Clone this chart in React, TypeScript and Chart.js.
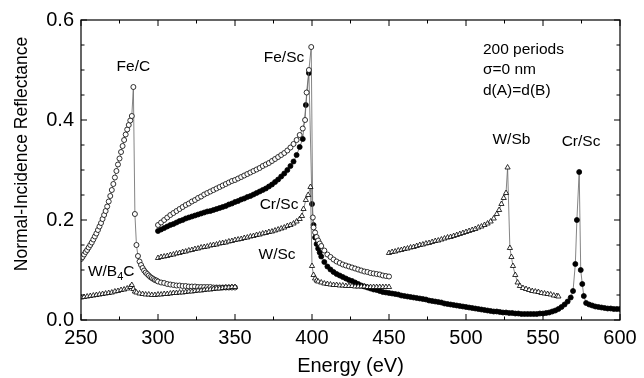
import React, { useEffect, useRef } from "react";
import { Chart, registerables } from "chart.js";
Chart.register(...registerables);

// ---------------- data (Energy eV / Normal-incidence reflectance) ----------------
const feCX = [250,251,252,253,254,255,256,257,258,259,260,261,262,263,264,265,266,267,268,269,270,271,272,273,274,275,276,277,278,279,280,281,282,283,284,
  285,286,287,288,289,290,291,292,293,294,295,296,297,298,299,300,
  302,304,306,308,310,312,314,316,318,320,322,324,326,328,330,332,334,336,338,340,342,344,346,348,350];
const feCY = [.122,.126,.131,.136,.140,.145,.150,.155,.161,.167,.173,.180,.187,.194,.202,.210,.218,.227,.237,.248,.260,.272,.285,.298,.311,.323,.336,.348,.360,.371,.381,.390,.399,.408,.466,
  .212,.150,.128,.117,.110,.104,.099,.095,.092,.089,.086,.084,.082,.080,.079,.077,
  .075,.074,.072,.071,.070,.069,.069,.068,.068,.067,.067,.067,.066,.066,.066,.066,.066,.065,.065,.065,.065,.065,.065,.065,.065];

const wb4cX = [250,252,254,256,258,260,262,264,266,268,270,272,274,276,278,280,282,283,284,285,286,288,290,292,294,296,298,300,
  302,304,306,308,310,312,314,316,318,320,322,324,326,328,330,332,334,336,338,340,342,344,346,348,350];
const wb4cY = [.045,.046,.047,.048,.049,.050,.051,.052,.053,.054,.055,.057,.058,.060,.061,.063,.066,.070,.062,.057,.055,.053,.052,.051,.051,.050,.050,.051,
  .051,.052,.052,.053,.054,.054,.055,.055,.056,.057,.057,.058,.059,.059,.060,.061,.061,.062,.063,.063,.064,.065,.065,.066,.066];

const feScX = [300,302,304,306,308,310,312,314,316,318,320,322,324,326,328,330,332,334,336,338,340,342,344,346,348,350,
  352,354,356,358,360,362,364,366,368,370,372,374,376,378,380,382,384,386,388,390,392,394,395.5,396.5,398,399.5,
  400.5,401,402,403,404,405,406,408,410,412,414,416,418,420,422,424,426,428,430,432,434,436,438,440,442,444,446,448,450];
const feScY = [.190,.195,.200,.205,.210,.214,.218,.222,.226,.230,.233,.237,.240,.244,.247,.251,.254,.257,.260,.263,.266,.269,.272,.275,.278,.280,
  .283,.286,.289,.292,.295,.298,.301,.304,.308,.311,.314,.318,.322,.326,.330,.334,.339,.345,.352,.360,.370,.383,.400,.455,.500,.546,
  .205,.185,.175,.166,.159,.153,.148,.139,.131,.126,.121,.117,.114,.111,.109,.107,.105,.103,.101,.099,.097,.096,.094,.093,.092,.091,.089,.088,.087];

const crScX = [300,302,304,306,308,310,312,314,316,318,320,322,324,326,328,330,332,334,336,338,340,342,344,346,348,350,
  352,354,356,358,360,362,364,366,368,370,372,374,376,378,380,382,384,386,388,390,392,394,396,398,
  400,401,402,403,404,405,406,408,410,412,414,416,418,420,422,424,426,428,430,432,434,436,438,440,442,444,446,448,450,
  452,454,456,458,460,462,464,466,468,470,472,474,476,478,480,482,484,486,488,490,492,494,496,498,500,
  502,504,506,508,510,512,514,516,518,520,522,524,526,528,530,532,534,536,538,540,542,544,546,548,550,
  552,554,556,558,560,562,564,566,568,569.5,571,572,573.5,574.5,575.5,576.5,578,580,582,584,586,588,590,592,594,596,598,600];
const crScY = [.178,.181,.184,.187,.190,.192,.195,.198,.200,.203,.205,.207,.209,.211,.213,.215,.217,.218,.220,.222,.224,.226,.228,.231,.233,.236,
  .238,.241,.243,.246,.248,.251,.254,.257,.260,.263,.267,.271,.276,.281,.287,.293,.300,.308,.317,.330,.346,.362,.430,.494,
  .232,.190,.165,.152,.143,.135,.127,.116,.107,.101,.096,.092,.089,.086,.083,.080,.078,.075,.072,.069,.067,.065,.063,.061,.060,.058,.056,.055,.054,
  .053,.052,.051,.049,.048,.047,.046,.045,.044,.043,.042,.041,.039,.038,.037,.036,.035,.033,.032,.031,.030,.029,.028,.027,.026,
  .025,.024,.023,.022,.021,.020,.019,.018,.017,.017,.016,.015,.015,.014,.014,.013,.013,.012,.012,.012,.012,.012,.012,.013,.013,
  .014,.015,.017,.019,.022,.026,.031,.037,.045,.058,.112,.200,.296,.100,.072,.048,.034,.031,.029,.027,.026,.025,.024,.023,.023,.022,.022,.022];

const wScX = [300,302,304,306,308,310,312,314,316,318,320,322,324,326,328,330,332,334,336,338,340,342,344,346,348,350,
  352,354,356,358,360,362,364,366,368,370,372,374,376,378,380,382,384,386,388,390,392,393.5,394.5,396,397.5,399,
  400,401,402,403,404,406,408,410,412,414,416,418,420,422,424,426,428,430,432,434,436,438,440,442,444,446,448,450];
const wScY = [.124,.126,.127,.128,.130,.131,.133,.134,.136,.137,.139,.140,.142,.143,.145,.146,.147,.149,.150,.151,.153,.154,.155,.157,.158,.160,
  .161,.162,.164,.165,.167,.168,.170,.171,.173,.174,.176,.177,.179,.181,.183,.185,.188,.190,.193,.197,.202,.208,.222,.240,.250,.266,
  .108,.090,.083,.079,.077,.075,.073,.072,.071,.070,.070,.069,.069,.068,.068,.068,.067,.067,.067,.067,.066,.066,.066,.066,.066,.066,.066,.066];

const wSbX = [450,452,454,456,458,460,462,464,466,468,470,472,474,476,478,480,482,484,486,488,490,492,494,496,498,500,
  502,504,506,508,510,512,514,516,518,520,521.5,523,524.5,526,527,528.5,529.5,530.5,532,533.5,535,537,539,541,543,545,547,549,551,553,555,557,559,560];
const wSbY = [.134,.136,.137,.139,.140,.142,.143,.145,.146,.148,.150,.151,.153,.154,.156,.158,.159,.161,.163,.165,.166,.168,.170,.172,.174,.176,
  .178,.180,.182,.185,.187,.190,.193,.197,.203,.212,.220,.232,.244,.254,.305,.144,.126,.108,.090,.075,.068,.064,.062,.060,.058,.057,.056,.054,.053,.052,.051,.049,.048,.047];

const xMajorTicks = [250, 300, 350, 400, 450, 500, 550, 600];
const xMinorTicks = [275, 325, 375, 425, 475, 525, 575];
const yMajorTicks = [0, 0.2, 0.4, 0.6];
const yMinorTicks = [0.05, 0.1, 0.15, 0.25, 0.3, 0.35, 0.45, 0.5, 0.55];

const labelTexts = ["Fe/C", "Fe/Sc", "W/Sb", "Cr/Sc", "Cr/Sc", "W/Sc"];
const labelX = [284, 381.8, 529.5, 574.7, 378.6, 377.3];
const labelY = [0.506, 0.524, 0.36, 0.356, 0.23, 0.13];
const noteLines = ["200 periods", "\u03C3=0 nm", "d(A)=d(B)"];
const noteY = [0.54, 0.5, 0.458];
const noteX = 511;

const FONT = "'Liberation Sans', Arial, Helvetica, sans-serif";

function pts(xs: number[], ys: number[]) {
  return xs.map((x, i) => ({ x, y: ys[i] }));
}

const decorPlugin = {
  id: "decor",
  afterDatasetsDraw(chart: any) {
    const { ctx, chartArea: a, scales } = chart;
    const sx = scales.x, sy = scales.y;
    ctx.save();
    ctx.strokeStyle = "#000";
    ctx.lineWidth = 1.2;
    ctx.strokeRect(a.left, a.top, a.right - a.left, a.bottom - a.top);
    ctx.lineWidth = 1;
    const seg = (x1: number, y1: number, x2: number, y2: number) => {
      ctx.beginPath(); ctx.moveTo(x1, y1); ctx.lineTo(x2, y2); ctx.stroke();
    };
    xMajorTicks.forEach(v => { const p = sx.getPixelForValue(v); seg(p, a.bottom, p, a.bottom - 6); seg(p, a.top, p, a.top + 6); });
    xMinorTicks.forEach(v => { const p = sx.getPixelForValue(v); seg(p, a.bottom, p, a.bottom - 3.5); seg(p, a.top, p, a.top + 3.5); });
    yMajorTicks.forEach(v => { const p = sy.getPixelForValue(v); seg(a.left, p, a.left + 6, p); seg(a.right, p, a.right - 6, p); });
    yMinorTicks.forEach(v => { const p = sy.getPixelForValue(v); seg(a.left, p, a.left + 3.5, p); seg(a.right, p, a.right - 3.5, p); });

    ctx.fillStyle = "#000";
    ctx.font = "15.5px " + FONT;
    ctx.textBaseline = "middle";
    ctx.textAlign = "center";
    labelTexts.forEach((t, i) => ctx.fillText(t, sx.getPixelForValue(labelX[i]), sy.getPixelForValue(labelY[i])));
    ctx.textAlign = "left";
    noteLines.forEach((t, i) => ctx.fillText(t, sx.getPixelForValue(noteX), sy.getPixelForValue(noteY[i])));
    // W/B4C with subscript
    let px = sx.getPixelForValue(254.5);
    const py = sy.getPixelForValue(0.096);
    ctx.fillText("W/B", px, py);
    px += ctx.measureText("W/B").width;
    ctx.font = "11px " + FONT;
    ctx.fillText("4", px, py + 5);
    px += ctx.measureText("4").width;
    ctx.font = "15.5px " + FONT;
    ctx.fillText("C", px, py);

    // axis titles
    ctx.font = "20px " + FONT;
    ctx.textAlign = "center";
    ctx.fillText("Energy (eV)", (a.left + a.right) / 2, a.bottom + 46);
    ctx.save();
    ctx.translate(22, a.top + 134);
    ctx.rotate(-Math.PI / 2);
    ctx.font = "17.5px " + FONT;
    ctx.fillText("Normal-Incidence Reflectance", 0, 0);
    ctx.restore();
    ctx.restore();
  },
};

export default function App() {
  const ref = useRef<HTMLCanvasElement | null>(null);
  useEffect(() => {
    document.body.style.margin = "0";
    const lineCol = "#666";
    const mk = (label: string, xs: number[], ys: number[], style: string, filled: boolean, r: number) => ({
      label,
      data: pts(xs, ys),
      showLine: true,
      borderColor: lineCol,
      borderWidth: 0.8,
      pointStyle: style,
      pointRadius: r,
      pointBorderColor: "#000",
      pointBorderWidth: 0.8,
      pointBackgroundColor: filled ? "#000" : "#fff",
      backgroundColor: filled ? "#000" : "#fff",
    });
    const chart = new Chart(ref.current as HTMLCanvasElement, {
      type: "scatter",
      data: {
        datasets: [
          mk("W/B4C", wb4cX, wb4cY, "triangle", false, 3),
          mk("Fe/C", feCX, feCY, "circle", false, 2.5),
          mk("W/Sc", wScX, wScY, "triangle", false, 3),
          mk("Fe/Sc", feScX, feScY, "circle", false, 2.5),
          mk("W/Sb", wSbX, wSbY, "triangle", false, 3),
          mk("Cr/Sc", crScX, crScY, "circle", true, 2.5),
        ] as any,
      },
      options: {
        animation: false,
        responsive: false,
        events: [],
        layout: { padding: { left: 0, right: 24, top: 20, bottom: 0 } },
        plugins: { legend: { display: false }, tooltip: { enabled: false } },
        scales: {
          x: {
            type: "linear",
            min: 250,
            max: 600,
            grid: { display: false, drawTicks: false },
            border: { display: false },
            ticks: { stepSize: 50, padding: 6, color: "#000", font: { size: 20, family: FONT } },
            afterFit: (s: any) => { s.height = 58; },
          },
          y: {
            type: "linear",
            min: 0,
            max: 0.6,
            grid: { display: false, drawTicks: false },
            border: { display: false },
            ticks: { stepSize: 0.2, padding: 7, color: "#000", font: { size: 20, family: FONT }, callback: (v: any) => Number(v).toFixed(1) },
            afterFit: (s: any) => { s.width = 81; },
          },
        },
      },
      plugins: [decorPlugin],
    });
    return () => chart.destroy();
  }, []);
  return <canvas ref={ref} width={644} height={378} style={{ display: "block" }} />;
}
